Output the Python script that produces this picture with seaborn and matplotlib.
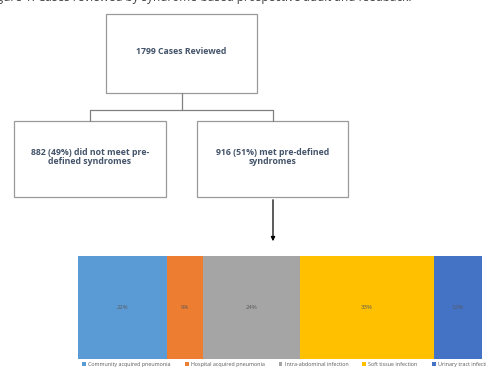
import numpy as np
import pandas as pd
import matplotlib
matplotlib.use("Agg")
import matplotlib.pyplot as plt
from matplotlib.patches import Rectangle
import seaborn as sns

# data
caption = "Figure 1: Cases reviewed by syndrome-based prospective audit and feedback."
box_texts = ["1799 Cases Reviewed",
             "882 (49%) did not meet pre-\ndefined syndromes",
             "916 (51%) met pre-defined\nsyndromes"]
syndromes = ["Community acquired pneumonia", "Hospital acquired pneumonia",
             "Intra-abdominal infection", "Soft tissue infection",
             "Urinary tract infection"]
shares = [22, 9, 24, 33, 12]
colors = ["#5B9BD5", "#ED7D31", "#A5A5A5", "#FFC000", "#4472C4"]

sns.set_theme(style="white")
plt.rcParams["font.family"] = ["Open Sans", "DejaVu Sans"]

W, H = 486, 368
fig = plt.figure(figsize=(W / 100, H / 100), dpi=100)
ax = fig.add_axes([0, 0, 1, 1])
ax.set_xlim(0, W)
ax.set_ylim(H, 0)
ax.axis("off")

txt_col = "#44546A"
edge = "#9A9A9A"

ax.text(-12, -3, caption, fontsize=8.5, color="#404040", va="center", ha="left")

# boxes (x0, y0, x1, y1)
boxes = [(106, 14, 257, 93), (14, 121, 166, 197), (197, 121, 348, 197)]
for (x0, y0, x1, y1), t in zip(boxes, box_texts):
    ax.add_patch(Rectangle((x0, y0), x1 - x0, y1 - y0, fill=False,
                           edgecolor=edge, lw=0.9))
    ax.text((x0 + x1) / 2, (y0 + y1) / 2 - 2, t, ha="center", va="center",
            fontsize=6.3, fontweight="bold", color=txt_col, linespacing=1.1)

# connectors
lc = "#808080"
ax.plot([181.5, 181.5], [93, 110], color=lc, lw=0.9)
ax.plot([90, 273], [110, 110], color=lc, lw=0.9)
ax.plot([90, 90], [110, 121], color=lc, lw=0.9)
ax.plot([273, 273], [110, 121], color=lc, lw=0.9)
ax.annotate("", xy=(273, 244), xytext=(273, 197),
            arrowprops=dict(arrowstyle="-|>", color="black", lw=0.9,
                            mutation_scale=6))

# stacked bar
bx = fig.add_axes([78 / W, 1 - 359 / H, 404 / W, 103 / H])
df = pd.DataFrame({"syndrome": syndromes, "share": shares, "color": colors})
df["cum"] = df["share"].cumsum()
for i in range(len(df) - 1, -1, -1):
    sns.barplot(x=[df["cum"][i]], y=[""], color=df["color"][i], width=1.0,
                orient="h", ax=bx, saturation=1, label=df["syndrome"][i],
                edgecolor="none")
for _, r in df.iterrows():
    bx.text(r["cum"] - r["share"] / 2, 0, f'{r["share"]}%', ha="center",
            va="center", fontsize=4.3, color="#595959")
bx.set_xlim(0, 100)
bx.set_ylim(0.5, -0.5)
bx.axis("off")

handles, labels = bx.get_legend_handles_labels()
bx.legend(handles[::-1], labels[::-1], ncol=5, loc="upper left",
          bbox_to_anchor=(0.005, -0.005), frameon=False, fontsize=3.9,
          handlelength=0.7, handleheight=0.7, handletextpad=0.4,
          columnspacing=2.6, labelcolor="#595959", borderaxespad=0)

fig.savefig("out.png", dpi=100)
